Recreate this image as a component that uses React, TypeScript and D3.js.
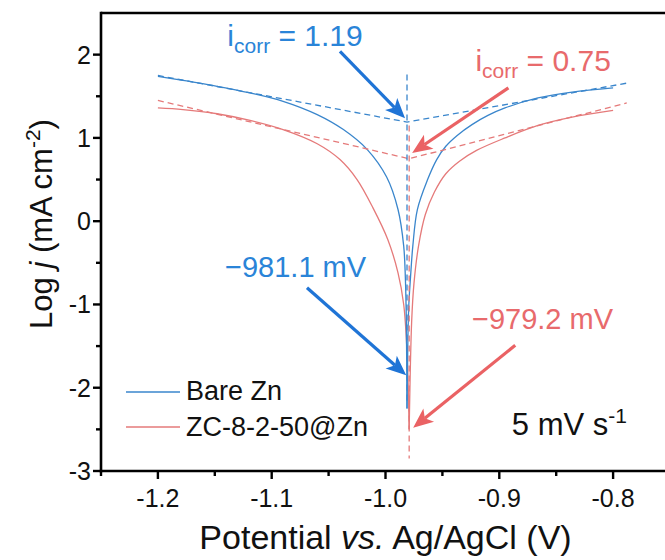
import React from "react";
import * as d3 from "d3";

// ---- data ----
const bareE = [-1.2, -1.178, -1.148, -1.119, -1.09, -1.06, -1.037, -1.016, -0.999, -0.989, -0.984, -0.9825, -0.9817, -0.9811, -0.9803, -0.9795, -0.978, -0.976, -0.972, -0.963, -0.955, -0.947, -0.937, -0.924, -0.91, -0.895, -0.866, -0.836, -0.8];
const bareLogJ = [1.74, 1.69, 1.62, 1.54, 1.44, 1.28, 1.1, 0.86, 0.53, 0.14, -0.3, -0.7, -1.2, -2.25, -1.4, -1.0, -0.67, -0.3, 0.14, 0.5, 0.74, 0.9, 1.03, 1.16, 1.27, 1.36, 1.48, 1.55, 1.6];

const zcE = [-1.2, -1.178, -1.148, -1.119, -1.09, -1.06, -1.04, -1.025, -1.011, -0.998, -0.989, -0.984, -0.981, -0.9792, -0.977, -0.975, -0.971, -0.965, -0.957, -0.947, -0.935, -0.92, -0.895, -0.866, -0.836, -0.8];
const zcLogJ = [1.36, 1.34, 1.29, 1.21, 1.1, 0.93, 0.74, 0.5, 0.16, -0.22, -0.62, -1.0, -1.6, -2.5, -1.2, -0.75, -0.3, 0.08, 0.35, 0.57, 0.72, 0.85, 1.0, 1.15, 1.25, 1.33];

// Tafel fit lines (E, logj)
const bareTafelE = [-1.2, -0.9811, -0.787];
const bareTafelJ = [1.75, 1.19, 1.66];
const zcTafelE = [-1.2, -0.9792, -0.788];
const zcTafelJ = [1.45, 0.75, 1.42];

// vertical E_corr lines
const bareEcorr = -0.9811;
const bareVert = [1.76, -2.2];
const zcEcorr = -0.9792;
const zcVert = [1.15, -2.85];

const xTicks = [-1.2, -1.1, -1.0, -0.9, -0.8];
const xTickLabels = ["-1.2", "-1.1", "-1.0", "-0.9", "-0.8"];
const xMinor = [-1.25, -1.15, -1.05, -0.95, -0.85, -0.75];
const yTicks = [-3, -2, -1, 0, 1, 2];
const yTickLabels = ["-3", "-2", "-1", "0", "1", "2"];
const yMinor = [-2.5, -1.5, -0.5, 0.5, 1.5];

const seriesNames = ["Bare Zn", "ZC-8-2-50@Zn"];

const BLUE = "#3a86cc";
const BLUE_TXT = "#2a84d8";
const BLUE_ARROW = "#1f74d6";
const RED = "#e57a7a";
const RED_TXT = "#e86a6c";
const RED_ARROW = "#ea6264";

const FONT = "Arial, 'Liberation Sans', Helvetica, sans-serif";

const W = 665, H = 560;
const L = 101, R = 670, T = 13, B = 471;

const x = d3.scaleLinear().domain([-1.25, -0.75]).range([L, R]);
const y = d3.scaleLinear().domain([-3, 2.5]).range([B, T]);

function Arrow({ x1, y1, x2, y2, color }: { x1: number; y1: number; x2: number; y2: number; color: string }) {
  const dx = x2 - x1, dy = y2 - y1;
  const len = Math.hypot(dx, dy);
  const ux = dx / len, uy = dy / len;
  const px = -uy, py = ux;
  const hl = 20, hw = 8.5, notch = 5;
  const bx = x2 - ux * hl, by = y2 - uy * hl;
  const nx = x2 - ux * (hl - notch), ny = y2 - uy * (hl - notch);
  const head = `M${x2},${y2} L${bx + px * hw},${by + py * hw} L${nx},${ny} L${bx - px * hw},${by - py * hw} Z`;
  return (
    <g>
      <line x1={x1} y1={y1} x2={nx} y2={ny} stroke={color} strokeWidth={3.2} />
      <path d={head} fill={color} />
    </g>
  );
}

function branches(E: number[], J: number[]) {
  let k = 0;
  for (let i = 1; i < J.length; i++) if (J[i] < J[k]) k = i;
  const pts = E.map((e, i) => [e, J[i]] as [number, number]);
  return [pts.slice(0, k + 1), pts.slice(k)];
}

export default function App() {
  const line = d3
    .line<[number, number]>()
    .x((d) => x(d[0]))
    .y((d) => y(d[1]))
    .curve(d3.curveCatmullRom.alpha(0.5));
  const straight = d3
    .line<[number, number]>()
    .x((d) => x(d[0]))
    .y((d) => y(d[1]));

  const bareB = branches(bareE, bareLogJ);
  const zcB = branches(zcE, zcLogJ);
  const bareT = bareTafelE.map((e, i) => [e, bareTafelJ[i]] as [number, number]);
  const zcT = zcTafelE.map((e, i) => [e, zcTafelJ[i]] as [number, number]);

  return (
    <svg width={W} height={H} style={{ position: "absolute", left: 0, top: 0, background: "#fff" }} fontFamily={FONT}>
      <rect width={W} height={H} fill="#fff" />
      {/* curves */}
      {zcB.map((b, i) => (
        <path key={"zc" + i} d={line(b) || ""} fill="none" stroke={RED} strokeWidth={1.3} />
      ))}
      {bareB.map((b, i) => (
        <path key={"bz" + i} d={line(b) || ""} fill="none" stroke={BLUE} strokeWidth={1.3} />
      ))}
      <path d={straight(zcT) || ""} fill="none" stroke={RED} strokeWidth={1.3} strokeDasharray="6,4" />
      <path d={straight(bareT) || ""} fill="none" stroke={BLUE} strokeWidth={1.3} strokeDasharray="6,4" />
      <line x1={x(zcEcorr)} x2={x(zcEcorr)} y1={y(zcVert[0])} y2={y(zcVert[1])} stroke={RED} strokeWidth={1.3} strokeDasharray="6,4" />
      <line x1={x(bareEcorr)} x2={x(bareEcorr)} y1={y(bareVert[0])} y2={y(bareVert[1])} stroke={BLUE} strokeWidth={1.3} strokeDasharray="6,4" />

      {/* axes frame */}
      <line x1={L} x2={R} y1={T} y2={T} stroke="#000" strokeWidth={2.6} />
      <line x1={L} x2={L} y1={T - 1.3} y2={B + 1.3} stroke="#000" strokeWidth={2.6} />
      <line x1={L - 1.3} x2={R} y1={B} y2={B} stroke="#000" strokeWidth={2.6} />

      {/* x ticks */}
      {xTicks.map((t, i) => (
        <g key={"xt" + i}>
          <line x1={x(t)} x2={x(t)} y1={B} y2={B + 8} stroke="#000" strokeWidth={2.4} />
          <text x={x(t)} y={507} textAnchor="middle" fontSize={25} fill="#111">
            {xTickLabels[i]}
          </text>
        </g>
      ))}
      {xMinor.map((t, i) => (
        <line key={"xm" + i} x1={x(t)} x2={x(t)} y1={B} y2={B + 5} stroke="#000" strokeWidth={2.4} />
      ))}
      {/* y ticks */}
      {yTicks.map((t, i) => (
        <g key={"yt" + i}>
          <line x1={L - 8} x2={L} y1={y(t)} y2={y(t)} stroke="#000" strokeWidth={2.4} />
          <text x={91} y={y(t)} dy="0.36em" textAnchor="end" fontSize={25} fill="#111">
            {yTickLabels[i]}
          </text>
        </g>
      ))}
      {yMinor.map((t, i) => (
        <line key={"ym" + i} x1={L - 5} x2={L} y1={y(t)} y2={y(t)} stroke="#000" strokeWidth={2.4} />
      ))}

      {/* axis titles */}
      <text x={(L + R) / 2} y={549} textAnchor="middle" fontSize={34} fill="#111">
        Potential <tspan fontStyle="italic">vs.</tspan> Ag/AgCl (V)
      </text>
      <text transform={`translate(52,224) rotate(-90)`} textAnchor="middle" fontSize={31} fill="#111">
        Log <tspan fontStyle="italic">j</tspan> (mA cm<tspan fontSize={21} dy={-12}>-2</tspan>
        <tspan dy={12}>)</tspan>
      </text>

      {/* legend */}
      <line x1={126} x2={180} y1={392} y2={392} stroke={BLUE} strokeWidth={1.3} />
      <text x={186} y={400} fontSize={27} fill="#111">{seriesNames[0]}</text>
      <line x1={126} x2={180} y1={427} y2={427} stroke={RED} strokeWidth={1.3} />
      <text x={186} y={436} fontSize={27} fill="#111">{seriesNames[1]}</text>

      {/* annotations */}
      <text x={x(-1.139)} y={y(2.1)} fontSize={30} fill={BLUE_TXT}>
        i<tspan fontSize={21} dy={7}>corr</tspan>
        <tspan dy={-7}> = 1.19</tspan>
      </text>
      <text x={x(-0.921)} y={y(1.8)} fontSize={30} fill={RED_TXT}>
        i<tspan fontSize={21} dy={7}>corr</tspan>
        <tspan dy={-7}> = 0.75</tspan>
      </text>
      <text x={x(-1.141)} y={y(-0.665)} fontSize={29} fill={BLUE_TXT}>−981.1 mV</text>
      <text x={x(-0.924)} y={y(-1.293)} fontSize={29} fill={RED_TXT}>−979.2 mV</text>
      <text x={x(-0.889)} y={y(-2.567)} fontSize={31} fill="#111">
        5 mV s<tspan fontSize={21} dy={-12}>-1</tspan>
      </text>

      <Arrow x1={x(-1.04)} y1={y(2.04)} x2={x(-0.9828)} y2={y(1.235)} color={BLUE_ARROW} />
      <Arrow x1={x(-0.892)} y1={y(1.6)} x2={x(-0.9766)} y2={y(0.82)} color={RED_ARROW} />
      <Arrow x1={x(-1.069)} y1={y(-0.8)} x2={x(-0.9818)} y2={y(-1.85)} color={BLUE_ARROW} />
      <Arrow x1={x(-0.886)} y1={y(-1.49)} x2={x(-0.9757)} y2={y(-2.48)} color={RED_ARROW} />
    </svg>
  );
}
